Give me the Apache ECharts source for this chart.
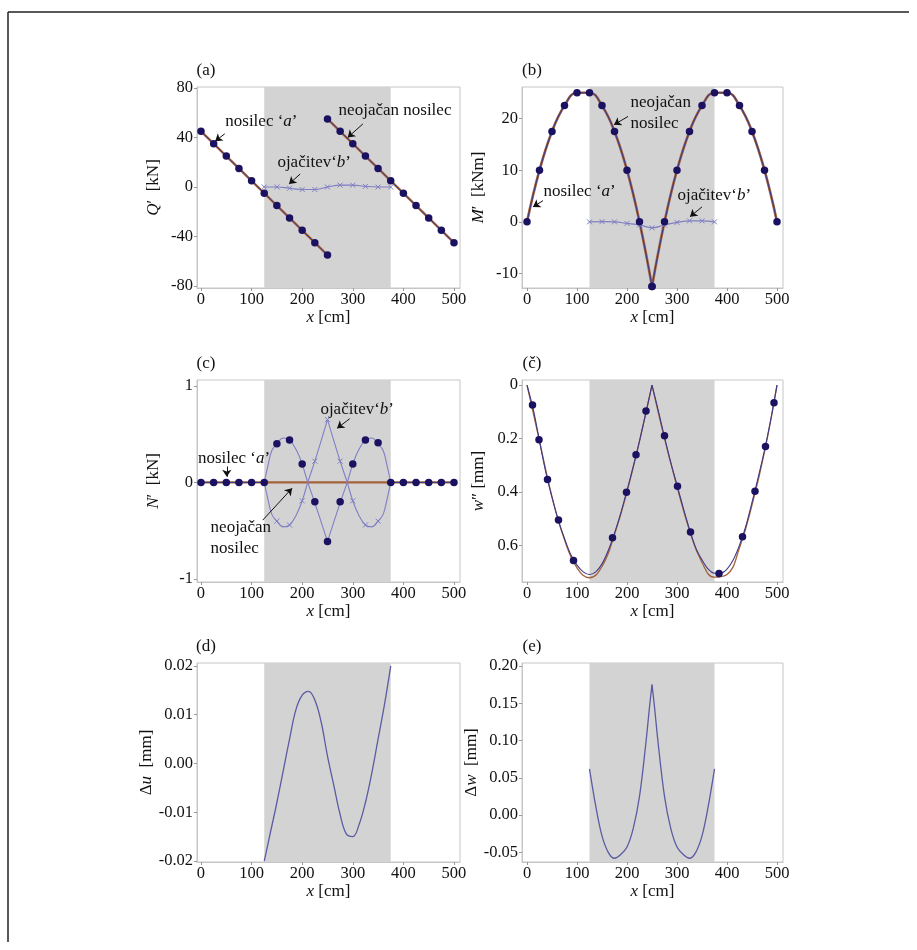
<!DOCTYPE html>
<html>
<head>
<meta charset="utf-8">
<script src="https://cdn.jsdelivr.net/npm/echarts@6/dist/echarts.min.js"></script>
<style>
  html, body { margin: 0; padding: 0; background: #fff; }
  #chart { width: 917px; height: 950px; }
</style>
</head>
<body>
<div id="chart"></div>
<script>
// ---- data (x in cm) ----
const SHADE = [125, 375];
const X_TICKS = [0, 100, 200, 300, 400, 500];

// (a) shear force Q [kN]
const qA_x = [0, 25, 50, 75, 100, 125, 150, 175, 200, 225, 250];
const qA_y = [45, 35, 25, 15, 5, -5, -15, -25, -35, -45, -55];
const qN_x = [250, 275, 300, 325, 350, 375, 400, 425, 450, 475, 500];
const qN_y = [55, 45, 35, 25, 15, 5, -5, -15, -25, -35, -45];
const qB_x = [125, 150, 175, 200, 225, 250, 275, 300, 325, 350, 375];
const qB_y = [0, 0, -1, -2, -2, 0, 1.5, 1.5, 0.5, 0, 0];

// (b) bending moment M [kNm]
const mL_x = [0, 25, 50, 75, 100, 125, 150, 175, 200, 225, 250];
const mL_y = [0, 10, 17.5, 22.5, 25, 25, 22.5, 17.5, 10, 0, -12.5];
const mR_x = [250, 275, 300, 325, 350, 375, 400, 425, 450, 475, 500];
const mR_y = [-12.5, 0, 10, 17.5, 22.5, 25, 25, 22.5, 17.5, 10, 0];
const mB_x = [125, 150, 175, 200, 225, 250, 275, 300, 325, 350, 375];
const mB_y = [0, 0.05, 0, -0.3, -0.6, -1.15, -0.6, -0.1, 0.2, 0.2, 0];

// (c) normal force N [kN]
const nDot_x = [0, 25, 50, 75, 100, 125, 150, 175, 200, 225, 250, 275, 300, 325, 350, 375, 400, 425, 450, 475, 500];
const nDot_y = [0, 0, 0, 0, 0, 0, 0.40, 0.44, 0.19, -0.20, -0.61, -0.20, 0.19, 0.44, 0.41, 0, 0, 0, 0, 0, 0];
const nFlatL_x = [0, 125];
const nFlatR_x = [375, 500];
const nFlat_y = [0, 0];
const nNeo_x = [0, 500];
const nNeo_y = [0, 0];
const nA1_x = [125, 133, 140, 150, 162.5, 175, 189, 200, 211, 225, 250];
const nA1_y = [0, 0.19, 0.33, 0.40, 0.46, 0.44, 0.33, 0.19, 0, -0.21, -0.61];
const nA2_x = [250, 275, 289, 300, 311, 325, 337.5, 350, 360, 367, 375];
const nA2_y = [-0.61, -0.21, 0, 0.19, 0.33, 0.44, 0.46, 0.40, 0.33, 0.19, 0];
const nB1_y = [0, -0.19, -0.33, -0.40, -0.46, -0.44, -0.33, -0.19, 0, 0.22, 0.65];
const nB2_y = [0.65, 0.22, 0, -0.19, -0.33, -0.44, -0.46, -0.40, -0.33, -0.19, 0];
const nBm_x = [150, 175, 200, 225, 250, 275, 300, 325, 350];
const nBm_y = [-0.40, -0.44, -0.19, 0.22, 0.65, 0.22, -0.19, -0.44, -0.40];

// (č) deflection w [mm]
const wDot_x = [11, 24, 41, 63, 93, 171, 199, 218, 238, 275, 301, 327, 384, 431, 456, 477, 494];
const wDot_y = [0.075, 0.205, 0.354, 0.506, 0.657, 0.572, 0.402, 0.261, 0.097, 0.190, 0.379, 0.551, 0.706, 0.568, 0.398, 0.230, 0.066];
const wA1_x = [0, 12.5, 25, 37.5, 50, 62.5, 75, 87.5, 100, 112.5, 125, 137.5, 150, 162.5, 175, 187.5, 200, 212.5, 225, 237.5, 250];
const wA1_y = [0, 0.09, 0.21, 0.325, 0.42, 0.505, 0.575, 0.635, 0.675, 0.70, 0.71, 0.70, 0.67, 0.62, 0.555, 0.48, 0.395, 0.305, 0.21, 0.105, 0];
const wA2_x = [250, 262.5, 275, 287.5, 300, 312.5, 325, 337.5, 350, 362.5, 375, 387.5, 400, 412.5, 425, 437.5, 450, 462.5, 475, 487.5, 500];
const wA2_y = [0, 0.095, 0.195, 0.29, 0.375, 0.46, 0.54, 0.61, 0.655, 0.69, 0.705, 0.705, 0.69, 0.655, 0.60, 0.53, 0.44, 0.345, 0.245, 0.13, 0];
const wN1_x = [0, 25, 50, 75, 100, 125, 150, 175, 200, 225, 250];
const wN1_y = [0, 0.21, 0.42, 0.58, 0.685, 0.722, 0.68, 0.56, 0.40, 0.21, 0];
const wN2_x = [250, 275, 300, 325, 350, 375, 400, 425, 450, 475, 500];
const wN2_y = [0, 0.20, 0.38, 0.545, 0.665, 0.72, 0.71, 0.61, 0.45, 0.25, 0];

// (d) delta u [mm]
const du_x = [125, 137.5, 150, 162.5, 175, 187.5, 200, 212.5, 225, 237.5, 250, 262.5, 275, 287.5, 300, 312.5, 325, 337.5, 350, 362.5, 375];
const du_y = [-0.0200, -0.0140, -0.0080, -0.0015, 0.0050, 0.0110, 0.0140, 0.0148, 0.0130, 0.0085, 0.0015, -0.0045, -0.0105, -0.0145, -0.0150, -0.0125, -0.0080, -0.0020, 0.0050, 0.0120, 0.0200];

// (e) delta w [mm]
const dw1_x = [125, 137.5, 150, 162.5, 175, 187.5, 200, 212.5, 225, 237.5, 245, 250];
const dw1_y = [0.062, 0.012, -0.028, -0.050, -0.058, -0.053, -0.043, -0.018, 0.025, 0.095, 0.145, 0.175];
const dw2_x = [250, 255, 262.5, 275, 287.5, 300, 312.5, 325, 337.5, 350, 362.5, 375];
const dw2_y = [0.175, 0.145, 0.095, 0.025, -0.018, -0.043, -0.053, -0.058, -0.050, -0.028, 0.012, 0.062];

// ---- styling ----
const FONT = '"Liberation Serif", "DejaVu Serif", serif';
const TXT = '#111';
const COL_DOT = '#1a1260';
const COL_A = '#3f3a8a';
const COL_N = '#a4623a';
const COL_B = '#7f7fc4';
const COL_D = '#5b5ba3';
const CROSS = 'path://M0,0L10,10M10,0L0,10';
const FS_TICK = 16.5;
const FS = 17;

const rich = {
  i: { fontStyle: 'italic', fontFamily: FONT, fontSize: FS, color: TXT },
  t: { fontFamily: FONT, fontSize: FS, color: TXT }
};

// panel layout
const panels = [
  { grid: { left: 197, top: 87, width: 263, height: 201 }, xr: [-7.9, 511.9], yr: [-81.6, 80.8], yt: [-80, -40, 0, 40, 80], name: '{i|Q}′  [kN]', tag: '(a)', fmt: v => String(v) },
  { grid: { left: 522, top: 87, width: 261, height: 201 }, xr: [-10, 512], yr: [-12.8, 26.1], yt: [-10, 0, 10, 20], name: '{i|M}′  [kNm]', tag: '(b)', fmt: v => String(v) },
  { grid: { left: 197, top: 380, width: 263, height: 202 }, xr: [-7.9, 511.9], yr: [-1.03, 1.06], yt: [-1, 0, 1], name: '{i|N}′  [kN]', tag: '(c)', fmt: v => String(v) },
  { grid: { left: 522, top: 380, width: 261, height: 202 }, xr: [-10, 512], yr: [-0.019, 0.738], yt: [0, 0.2, 0.4, 0.6], name: '{i|w}″ [mm]', tag: '(č)', fmt: v => String(v), inverse: true },
  { grid: { left: 197, top: 663, width: 263, height: 199 }, xr: [-7.9, 511.9], yr: [-0.0202, 0.0206], yt: [-0.02, -0.01, 0, 0.01, 0.02], name: 'Δ{i|u}  [mm]', tag: '(d)', fmt: v => v.toFixed(2) },
  { grid: { left: 522, top: 663, width: 261, height: 199 }, xr: [-10, 512], yr: [-0.063, 0.204], yt: [-0.05, 0, 0.05, 0.1, 0.15, 0.2], name: 'Δ{i|w}  [mm]', tag: '(e)', fmt: v => v.toFixed(2) }
];

// annotations (data coordinates): label anchor, arrow tail, arrow head
const notes = {
  0: [
    { text: 'nosilec ‘{i|a}’', at: [47, 52.5], from: [47, 43], to: [28, 37] },
    { text: 'neojačan nosilec', at: [271, 61.4], from: [320, 51], to: [290, 40] },
    { text: 'ojačitev‘{i|b}’', at: [150, 20], from: [196, 10.5], to: [174, 2.4] }
  ],
  1: [
    { text: 'neojačan\nnosilec', at: [206, 21.1], from: [202, 20.4], to: [174, 18.8] },
    { text: 'nosilec ‘{i|a}’', at: [32, 5.8], from: [32, 4.1], to: [12, 2.9] },
    { text: 'ojačitev‘{i|b}’', at: [300, 5.0], from: [350, 2.9], to: [326, 1.0] }
  ],
  2: [
    { text: 'ojačitev‘{i|b}’', at: [235, 0.75], from: [294, 0.66], to: [269, 0.56] },
    { text: 'nosilec ‘{i|a}’', at: [-7, 0.25], from: [51, 0.165], to: [51, 0.06] },
    { text: 'neojačan\nnosilec', at: [18, -0.57], from: [122, -0.39], to: [180, -0.06] }
  ]
};

function pts(xs, ys) { return xs.map((x, i) => [x, ys[i]]); }

function line(gi, xs, ys, color, width, smooth) {
  return {
    type: 'line', xAxisIndex: gi, yAxisIndex: gi, data: pts(xs, ys),
    symbol: 'none', smooth: smooth || false, silent: true, z: 3,
    lineStyle: { color: color, width: width }
  };
}
function dots(gi, xs, ys) {
  return {
    type: 'scatter', xAxisIndex: gi, yAxisIndex: gi, data: pts(xs, ys),
    symbol: 'circle', symbolSize: 7.5, itemStyle: { color: COL_DOT, opacity: 1 }, silent: true, z: 5
  };
}
function crosses(gi, xs, ys) {
  return {
    type: 'scatter', xAxisIndex: gi, yAxisIndex: gi, data: pts(xs, ys),
    symbol: CROSS, symbolSize: 5, silent: true, z: 4,
    itemStyle: { color: 'rgba(0,0,0,0)', borderColor: COL_B, borderWidth: 1, opacity: 1 }
  };
}
function band(gi) {
  return {
    type: 'line', xAxisIndex: gi, yAxisIndex: gi, data: [[SHADE[0], 0], [SHADE[1], 0]],
    symbol: 'none', lineStyle: { opacity: 0 }, silent: true, z: 1,
    markArea: { silent: true, itemStyle: { color: '#d3d3d3' }, data: [[{ xAxis: SHADE[0] }, { xAxis: SHADE[1] }]] }
  };
}
function noteSeries(gi, list) {
  return {
    type: 'scatter', xAxisIndex: gi, yAxisIndex: gi, clip: false, silent: true, z: 8,
    symbol: 'circle', symbolSize: 1, itemStyle: { color: 'rgba(0,0,0,0)', opacity: 1 },
    labelLayout: { hideOverlap: false },
    data: list.map(n => ({ value: n.at, name: n.text })),
    label: {
      show: true, position: 'right', distance: 0, formatter: p => p.name,
      fontFamily: FONT, fontSize: FS, color: TXT, lineHeight: 21, rich: rich
    },
    markLine: {
      silent: true, symbol: ['none', 'arrow'], symbolSize: 7, animation: false,
      lineStyle: { color: '#111', width: 1, type: 'solid' }, label: { show: false },
      data: list.map(n => [{ coord: n.from }, { coord: n.to }])
    }
  };
}

const series = [];
// (a)
series.push(band(0));
series.push(line(0, qA_x, qA_y, COL_N, 2.4), line(0, qA_x, qA_y, COL_A, 1), dots(0, qA_x, qA_y));
series.push(line(0, qN_x, qN_y, COL_N, 2.4), line(0, qN_x, qN_y, COL_A, 1), dots(0, qN_x, qN_y));
series.push(line(0, qB_x, qB_y, COL_B, 1.2, 0.4), crosses(0, qB_x, qB_y));
series.push(noteSeries(0, notes[0]));
// (b)
series.push(band(1));
series.push(line(1, mL_x, mL_y, COL_N, 2.6, 0.45), line(1, mR_x, mR_y, COL_N, 2.6, 0.45));
series.push(line(1, mL_x, mL_y, COL_A, 1.1, 0.45), line(1, mR_x, mR_y, COL_A, 1.1, 0.45));
series.push(dots(1, mL_x, mL_y), dots(1, mR_x, mR_y));
series.push(line(1, mB_x, mB_y, COL_B, 1.2, 0.4), crosses(1, mB_x, mB_y));
series.push(noteSeries(1, notes[1]));
// (c)
series.push(band(2));
series.push(line(2, nNeo_x, nNeo_y, COL_N, 2.2));
series.push(line(2, nFlatL_x, nFlat_y, COL_A, 1), line(2, nFlatR_x, nFlat_y, COL_A, 1));
series.push(line(2, nA1_x, nA1_y, COL_B, 1.1, 0.4), line(2, nA2_x, nA2_y, COL_B, 1.1, 0.4));
series.push(line(2, nA1_x, nB1_y, COL_B, 1.1, 0.4), line(2, nA2_x, nB2_y, COL_B, 1.1, 0.4));
series.push(crosses(2, nBm_x, nBm_y), dots(2, nDot_x, nDot_y));
series.push(noteSeries(2, notes[2]));
// (č)
series.push(band(3));
series.push(line(3, wN1_x, wN1_y, COL_N, 1.3, 0.45), line(3, wN2_x, wN2_y, COL_N, 1.3, 0.45));
series.push(line(3, wA1_x, wA1_y, COL_A, 1.1, 0.3), line(3, wA2_x, wA2_y, COL_A, 1.1, 0.3));
series.push(dots(3, wDot_x, wDot_y));
// (d)
series.push(band(4));
series.push(line(4, du_x, du_y, COL_D, 1.3, 0.4));
// (e)
series.push(band(5));
series.push(line(5, dw1_x, dw1_y, COL_D, 1.3, 0.35), line(5, dw2_x, dw2_y, COL_D, 1.3, 0.35));

const axisLine = { show: true, onZero: false, lineStyle: { color: '#c6c6c6', width: 1 } };
const tickLabel = { fontFamily: FONT, fontSize: FS_TICK, color: TXT };
const nameStyle = { fontFamily: FONT, fontSize: FS, color: TXT, rich: rich };

const option = {
  animation: false,
  backgroundColor: '#fff',
  grid: panels.map(p => Object.assign({ show: true, borderColor: '#c6c6c6', borderWidth: 1, backgroundColor: 'transparent' }, p.grid)),
  xAxis: panels.map((p, i) => ({
    type: 'value', gridIndex: i, min: p.xr[0], max: p.xr[1],
    axisLine: axisLine, splitLine: { show: false },
    axisTick: { show: true, length: 3, lineStyle: { color: '#999' }, customValues: X_TICKS },
    axisLabel: Object.assign({ margin: 3, customValues: X_TICKS }, tickLabel),
    name: '{i|x} [cm]', nameLocation: 'middle', nameGap: 20,
    nameTextStyle: nameStyle
  })),
  yAxis: panels.map((p, i) => ({
    type: 'value', gridIndex: i, min: p.yr[0], max: p.yr[1], inverse: !!p.inverse,
    axisLine: axisLine, splitLine: { show: false },
    axisTick: { show: true, length: 3, lineStyle: { color: '#999' }, customValues: p.yt },
    axisLabel: Object.assign({ margin: 4, customValues: p.yt, formatter: p.fmt }, tickLabel),
    name: p.name, nameLocation: 'middle', nameGap: 35, nameRotate: 90,
    nameTextStyle: nameStyle
  })),
  series: series,
  graphic: [
    { type: 'line', shape: { x1: 8, y1: 12, x2: 909, y2: 12 }, style: { stroke: '#222', lineWidth: 1.5 } },
    { type: 'line', shape: { x1: 8, y1: 12, x2: 8, y2: 942 }, style: { stroke: '#222', lineWidth: 1.5 } }
  ].concat(panels.map(p => ({
    type: 'text', x: p.grid.left + (p.grid.left < 300 ? 9 : 10), y: p.grid.top - 16,
    style: { text: p.tag, font: FS + 'px ' + FONT, fill: TXT, textAlign: 'center', textVerticalAlign: 'middle' }
  })))
};

const chart = echarts.init(document.getElementById('chart'), null, { renderer: 'canvas' });
chart.setOption(option);
</script>
</body>
</html>
